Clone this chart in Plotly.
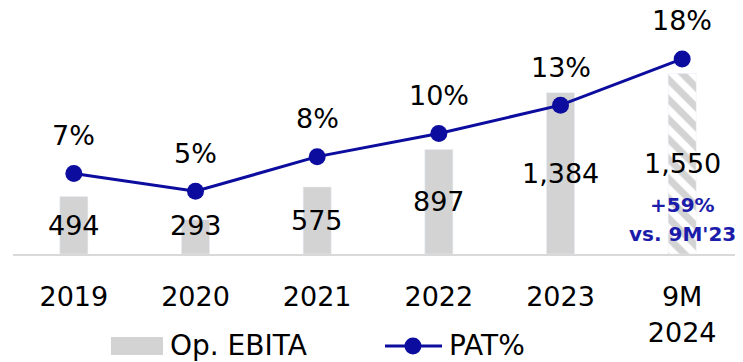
import plotly.graph_objects as go

categories = ["2019", "2020", "2021", "2022", "2023", "9M 2024"]
tick_labels = ["2019", "2020", "2021", "2022", "2023", "9M<br>2024"]
op_ebita = [494, 293, 575, 897, 1384, 1550]
pat_pct = [6.7, 5.0, 8.3, 10.5, 13.2, 17.6]
pat_labels = ["7%", "5%", "8%", "10%", "13%", "18%"]
growth_note = ["+59%", "vs. 9M'23"]
legend_names = ["Op. EBITA", "PAT%"]

GREY = "#d3d3d3"
BLUE = "#0c0c9e"
NOTE_BLUE = "#1c1caa"
FONT = "DejaVu Sans"

idx = list(range(len(categories)))
n = len(categories)

fig = go.Figure()
fig.add_trace(go.Bar(
    x=idx, y=op_ebita, name=legend_names[0],
    marker=dict(
        color=[GREY] * n,
        pattern=dict(shape=[""] * (n - 1) + ["\\"],
                     fgcolor=[GREY] * n, bgcolor=["white"] * n,
                     fillmode="replace", size=14, solidity=0.5),
    ),
    hoverinfo="skip", showlegend=False,
))
fig.add_trace(go.Scatter(
    x=idx, y=pat_pct, name=legend_names[1], yaxis="y2",
    mode="lines+markers",
    line=dict(color=BLUE, width=3),
    marker=dict(color=BLUE, size=17),
    hoverinfo="skip", showlegend=False,
))

annotations = []
for i, v in zip(idx, op_ebita):
    annotations.append(dict(
        x=i, y=max(v / 2, 243), xref="x", yref="y", text=f"{v:,}",
        showarrow=False, font=dict(family=FONT, size=27, color="black"),
    ))
for i, v, t in zip(idx, pat_pct, pat_labels):
    annotations.append(dict(
        x=i, y=v, xref="x", yref="y2", text=t, yshift=38,
        showarrow=False, font=dict(family=FONT, size=27, color="black"),
    ))
for t, ys in zip(growth_note, [49, 20]):
    annotations.append(dict(
        x=idx[-1], y=0, xref="x", yref="y", text=f"<b>{t}</b>",
        yshift=ys, showarrow=False,
        font=dict(family=FONT, size=20, color=NOTE_BLUE),
    ))

# custom legend (paper coordinates)
LEG_Y = -0.3898
annotations.append(dict(x=0.2123, y=LEG_Y, xref="paper", yref="paper",
                        text=legend_names[0], xanchor="left", yanchor="middle",
                        showarrow=False, font=dict(family=FONT, size=28, color="black")))
annotations.append(dict(x=0.5945, y=LEG_Y, xref="paper", yref="paper",
                        text=legend_names[1], xanchor="left", yanchor="middle",
                        showarrow=False, font=dict(family=FONT, size=28, color="black")))
shapes = [
    dict(type="rect", xref="paper", yref="paper", x0=0.1342, x1=0.2055,
         y0=-0.428, y1=-0.3517, fillcolor=GREY, line=dict(width=0)),
    dict(type="line", xref="paper", yref="paper", x0=0.5096, x1=0.5877,
         y0=LEG_Y, y1=LEG_Y, line=dict(color=BLUE, width=3)),
    dict(type="circle", xref="paper", yref="paper", xsizemode="pixel",
         ysizemode="pixel", xanchor=0.5479, yanchor=LEG_Y,
         x0=-8.5, x1=8.5, y0=-8.5, y1=8.5, fillcolor=BLUE, line=dict(width=0)),
]

fig.update_layout(
    width=735, height=354,
    margin=dict(l=5, r=0, t=10, b=108),
    paper_bgcolor="white", plot_bgcolor="white",
    bargap=0.77,
    font=dict(family=FONT, size=27, color="black"),
    xaxis=dict(
        range=[-0.5, len(categories) - 0.5],
        tickmode="array", tickvals=idx, ticktext=tick_labels,
        showline=True, linecolor="#d9d9d9", linewidth=2,
        showgrid=False, zeroline=False,
        ticks="outside", ticklen=18, tickcolor="rgba(0,0,0,0)",
        tickfont=dict(family=FONT, size=27, color="black"),
    ),
    yaxis=dict(range=[0, 2026], visible=False, showgrid=False, zeroline=False),
    yaxis2=dict(range=[-0.97, 21.50], overlaying="y", visible=False,
                showgrid=False, zeroline=False),
    showlegend=False,
    annotations=annotations,
    shapes=shapes,
)

fig.write_html("out.html")
